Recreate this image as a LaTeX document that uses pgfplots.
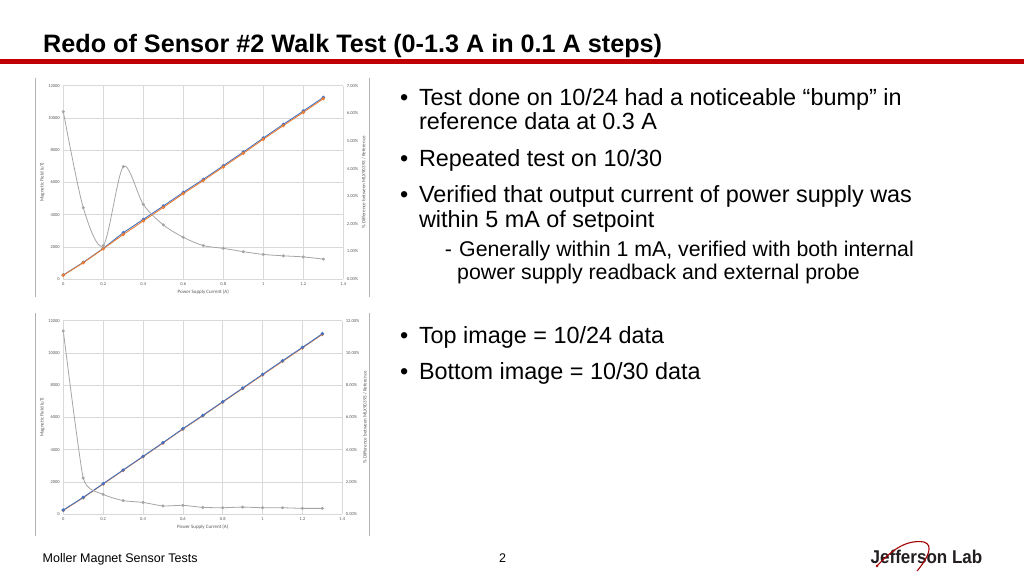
\documentclass[border=0pt]{standalone}
\usepackage{fontspec}
\setmainfont{Liberation Sans}
\newfontfamily\chartfont{Carlito}
\usepackage{pgfplots}
\usepackage{pgfplotstable}
\pgfplotsset{compat=1.18}

\definecolor{xlblue}{HTML}{4472C4}
\definecolor{xlorange}{HTML}{ED7D31}
\definecolor{xlgray}{HTML}{A5A5A5}
\definecolor{gridc}{HTML}{D9D9D9}
\definecolor{labc}{HTML}{595959}
\definecolor{jlabred}{HTML}{C00000}

% 10/24 data: I, sensor, reference, % difference
\pgfplotstableread{
I    blue   orange pct
0    248    234    6.06
0.1  1034   1008   2.58
0.2  1903   1880   1.21
0.3  2876   2764   4.07
0.4  3703   3606   2.70
0.5  4531   4444   1.96
0.6  5379   5299   1.51
0.7  6186   6112   1.21
0.8  7034   6957   1.11
0.9  7883   7806   0.99
1.0  8752   8675   0.89
1.1  9600   9520   0.84
1.2  10428  10345  0.80
1.3  11276  11195  0.72
}\topdata

% 10/30 data
\pgfplotstableread{
I    blue   orange pct
0    248    223    11.36
0.1  1034   1011   2.23
0.2  1883   1860   1.22
0.3  2731   2709   0.83
0.4  3579   3553   0.72
0.5  4428   4406   0.50
0.6  5297   5269   0.54
0.7  6124   6099   0.41
0.8  6972   6945   0.39
0.9  7821   7788   0.43
1.0  8669   8635   0.39
1.1  9517   9480   0.39
1.2  10345  10309  0.35
1.3  11193  11154  0.35
}\botdata

\pgfplotsset{
  xlbase/.style={
    scale only axis, width=280pt, height=193.3pt,
    anchor=south west,
    xmin=0, xmax=1.4,
    scaled y ticks=false, scaled x ticks=false,
    axis line style={draw=none},
    major tick length=0pt,
    tick label style={font=\chartfont\fontsize{4.5}{5}\selectfont, text=labc},
    label style={font=\chartfont\fontsize{5}{6}\selectfont, text=labc},
    /pgf/number format/.cd, set thousands separator={}, assume math mode=true,
  },
  xlleft/.style={
    xlbase,
    ymin=0, ymax=12000,
    xtick={0,0.2,0.4,0.6,0.8,1,1.2,1.4},
    ytick={0,2000,4000,6000,8000,10000,12000},
    grid=major, grid style={draw=gridc, line width=0.5pt},
    xlabel={Power Supply Current (A)},
    ylabel={Magnetic Field (uT)},
    xlabel style={yshift=3pt},
    ylabel style={yshift=-3pt},
  },
  xlright/.style={
    xlbase,
    axis y line*=right, axis x line=none,
    yticklabel={\pgfmathprintnumber[fixed,fixed zerofill,precision=2]{\tick}\%},
    ylabel={\% Difference between MLX90393 / Reference},
    ylabel style={yshift=3pt},
  },
  sensor/.style={xlblue, line width=0.9pt, mark=*, mark size=1.2pt, mark options={solid, fill=xlblue, draw=xlblue}},
  refer/.style={xlorange, line width=0.9pt, mark=*, mark size=1.2pt, mark options={solid, fill=xlorange, draw=xlorange}},
  pdiff/.style={xlgray, line width=0.8pt, smooth, mark=*, mark size=1.1pt, mark options={solid, fill=xlgray, draw=xlgray}},
}

\begin{document}
\begin{tikzpicture}
\useasboundingbox (0,0) rectangle (1024pt,-576pt);
\fill[white] (0,0) rectangle (1024pt,-576pt);

% header
\node[anchor=base west, inner sep=0] at (43pt,-52pt) {\fontsize{25.2}{28}\selectfont\bfseries Redo of Sensor \#2 Walk Test (0-1.3 A in 0.1 A steps)};
\fill[jlabred] (0,-59pt) rectangle (1024pt,-63.5pt);

% picture frames of the two pasted charts
\draw[gray!60, line width=0.8pt] (35pt,-78pt) -- (35pt,-297pt);
\draw[gray!60, line width=0.8pt] (369pt,-78pt) -- (369pt,-297pt);
\draw[gray!60, line width=0.8pt] (35pt,-313pt) -- (35pt,-536pt);
\draw[gray!60, line width=0.8pt] (369pt,-313pt) -- (369pt,-536pt);

% top chart (10/24)
\begin{axis}[xlleft, at={(63.3pt,-279pt)}]
\addplot[sensor] table[x=I, y=blue] {\topdata};
\addplot[refer] table[x=I, y=orange] {\topdata};
\end{axis}
\begin{axis}[xlright, at={(63.3pt,-279pt)}, ymin=0, ymax=7, ytick={0,1,2,3,4,5,6,7}]
\addplot[pdiff] table[x=I, y=pct] {\topdata};
\end{axis}

% bottom chart (10/30)
\begin{axis}[xlleft, at={(63.3pt,-514pt)}, width=279pt]
\addplot[refer] table[x=I, y=orange] {\botdata};
\addplot[sensor] table[x=I, y=blue] {\botdata};
\end{axis}
\begin{axis}[xlright, at={(63.3pt,-514pt)}, width=279pt, ymin=0, ymax=12, ytick={0,2,4,6,8,10,12}]
\addplot[pdiff, tension=0.3] table[x=I, y=pct] {\botdata};
\end{axis}

% bullet text
\begin{scope}[every node/.style={anchor=base west, inner sep=0}]
\def\big{\fontsize{23.4}{26}\selectfont}
\def\sub{\fontsize{21.3}{24}\selectfont}
\node at (400pt,-105pt) {\big •};
\node at (418.8pt,-105pt) {\big Test done on 10/24 had a noticeable “bump” in};
\node at (418.8pt,-129.5pt) {\big reference data at 0.3 A};
\node at (400pt,-166pt) {\big •};
\node at (418.8pt,-166pt) {\big Repeated test on 10/30};
\node at (400pt,-202pt) {\big •};
\node at (418.8pt,-202pt) {\big Verified that output current of power supply was};
\node at (418.8pt,-227pt) {\big within 5 mA of setpoint};
\node at (444.6pt,-256pt) {\sub -};
\node at (459pt,-256pt) {\sub Generally within 1 mA, verified with both internal};
\node at (457pt,-279pt) {\sub power supply readback and external probe};
\node at (400pt,-343pt) {\big •};
\node at (418.8pt,-343pt) {\big Top image = 10/24 data};
\node at (400pt,-379pt) {\big •};
\node at (418.8pt,-379pt) {\big Bottom image = 10/30 data};

% footer
\node at (42.5pt,-562pt) {\fontsize{12.5}{14}\selectfont Moller Magnet Sensor Tests};
\node at (499pt,-562pt) {\fontsize{12.5}{14}\selectfont 2};
\node at (870.5pt,-563.3pt) {\scalebox{0.92}[1]{\fontsize{18.5}{20}\selectfont\bfseries\color[HTML]{231F20}Jefferson Lab}};
\end{scope}
\draw[jlabred!85!black, line width=1.1pt] (877pt,-566pt) .. controls (890pt,-552pt) and (905pt,-539pt) .. (924pt,-542pt) .. controls (934pt,-545pt) and (928pt,-558pt) .. (917pt,-571pt);
\fill[jlabred!85!black] (877pt,-566pt) circle (1.4pt);
\end{tikzpicture}
\end{document}
